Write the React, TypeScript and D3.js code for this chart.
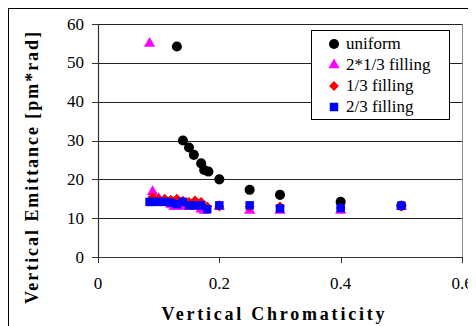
import React from "react";
import * as d3 from "d3";

const xTicks = [0, 0.2, 0.4, 0.6];
const yTicks = [0, 10, 20, 30, 40, 50, 60];

const uniformX = [0.13, 0.14, 0.15, 0.158, 0.17, 0.175, 0.182, 0.2, 0.25, 0.3, 0.4, 0.5];
const uniformY = [54.2, 30, 28.2, 26.3, 24.1, 22.4, 22, 20, 17.3, 16, 14.2, 13.2];

const tri13X = [0.085, 0.09, 0.1, 0.11, 0.12, 0.125, 0.13, 0.14, 0.15, 0.16, 0.17, 0.175, 0.2, 0.25, 0.3, 0.4, 0.5];
const tri13Y = [55, 16.8, 15, 14, 13.5, 13, 13, 13, 13, 13, 12.3, 12, 13, 12, 12, 12, 13];

const third13X = [0.09, 0.1, 0.11, 0.12, 0.13, 0.14, 0.15, 0.16, 0.17, 0.18, 0.2, 0.25, 0.3, 0.4, 0.5];
const third13Y = [15.5, 15, 15, 14.8, 15, 14.5, 14.2, 14.6, 14.2, 13, 13, 13, 13, 12.6, 13];

const two3X = [0.085, 0.09, 0.1, 0.11, 0.12, 0.13, 0.14, 0.15, 0.16, 0.17, 0.18, 0.2, 0.25, 0.3, 0.4, 0.5];
const two3Y = [14.2, 14.2, 14.2, 14.2, 14, 13.6, 14.2, 13.3, 13.3, 13.3, 12.3, 13.3, 13.3, 12.5, 12.6, 13.2];

const legendLabels = ["uniform", "2*1/3 filling", "1/3 filling", "2/3 filling"];
const colors = ["#000000", "#FF00FF", "#FF0000", "#0000FF"];

const x = d3.scaleLinear().domain([0, 0.6]).range([98, 462]);
const y = d3.scaleLinear().domain([0, 60]).range([257, 24]);

const circlePath = d3.symbol().type(d3.symbolCircle).size(80)() as string;
const triPath = d3.symbol().type(d3.symbolTriangle).size(55)() as string;
const diamondPath = d3.symbol().type(d3.symbolSquare).size(48)() as string;
const squarePath = d3.symbol().type(d3.symbolSquare).size(72)() as string;

const paths = [circlePath, triPath, diamondPath, squarePath];
const rotations = [0, 0, 45, 0];

const seriesX = [uniformX, tri13X, third13X, two3X];
const seriesY = [uniformY, tri13Y, third13Y, two3Y];

export default function App() {
  return (
    <svg width={468} height={318} style={{ display: "block", fontFamily: '"Liberation Serif"' }}>
      <g transform="translate(-8,-8)">
        <rect x={8.5} y={8.5} width={500} height={400} fill="white" stroke="#000" strokeWidth={1} />
        {yTicks.filter((t) => t > 0).map((t) => (
          <line key={t} x1={x(0)} x2={x(0.6)} y1={Math.round(y(t)) + 0.5} y2={Math.round(y(t)) + 0.5} stroke="#222" strokeWidth={1} />
        ))}
        <line x1={462.5} x2={462.5} y1={24} y2={257} stroke="#888" strokeWidth={1} />
        <line x1={98.5} x2={98.5} y1={24} y2={257} stroke="#333" strokeWidth={1.2} />
        <line x1={98} x2={463} y1={257.5} y2={257.5} stroke="#333" strokeWidth={1.2} />
        {yTicks.map((t) => (
          <g key={t}>
            <line x1={92} x2={98} y1={Math.round(y(t)) + 0.5} y2={Math.round(y(t)) + 0.5} stroke="#333" />
            <text x={84} y={y(t) + 5.5} textAnchor="end" fontSize={17} fill="#000">{t}</text>
          </g>
        ))}
        {xTicks.map((t) => (
          <g key={t}>
            <line x1={Math.round(x(t)) + 0.5} x2={Math.round(x(t)) + 0.5} y1={257} y2={263} stroke="#333" />
            <text x={x(t)} y={289} textAnchor="middle" fontSize={17} fill="#000">{t}</text>
          </g>
        ))}
        {seriesX.map((xs, si) => (
          <g key={si} fill={colors[si]}>
            {xs.map((v, i) => (
              <path key={i} d={paths[si]} transform={`translate(${x(v)},${y(seriesY[si][i])}) rotate(${rotations[si]})`} />
            ))}
          </g>
        ))}
        <rect x={311.5} y={30.5} width={138} height={89} fill="white" stroke="#000" strokeWidth={1} />
        {legendLabels.map((l, i) => (
          <g key={l} transform={`translate(0,${44 + i * 21})`}>
            <path d={paths[i]} fill={colors[i]} transform={`translate(334,0) rotate(${rotations[i]})`} />
            <text x={346} y={5} fontSize={17} fill="#000">{l}</text>
          </g>
        ))}
        <text x={273} y={320} textAnchor="middle" fontSize={18} fontWeight="bold" textLength={223} lengthAdjust="spacing" fill="#000">Vertical Chromaticity</text>
        <text transform="translate(38,168) rotate(-90)" textAnchor="middle" fontSize={18} fontWeight="bold" textLength={272} lengthAdjust="spacing" fill="#000">Vertical Emittance [pm*rad]</text>
      </g>
    </svg>
  );
}
